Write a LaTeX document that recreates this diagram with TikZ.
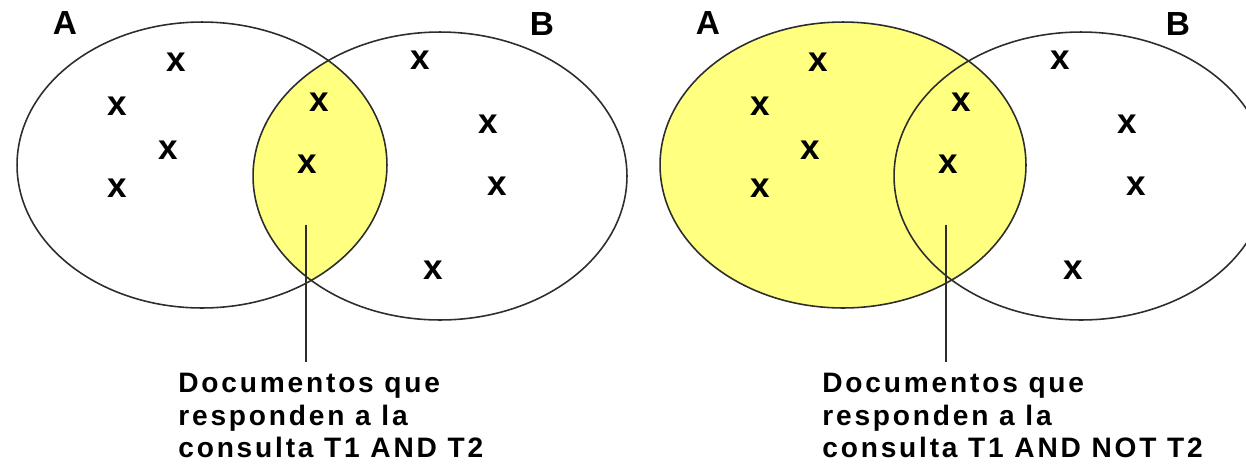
\documentclass[tikz,border=0pt]{standalone}
\usepackage{fontspec}
\setmainfont{Liberation Sans}
\newfontfamily\capfont[LetterSpace=10]{Liberation Sans}
\usetikzlibrary{positioning}

\definecolor{hiyellow}{RGB}{255,255,128}
\definecolor{setgray}{RGB}{45,45,45}

\tikzset{
  setline/.style={draw=setgray, line width=0.9pt},
  xmark/.style={font=\bfseries\fontsize{20}{20}\selectfont, inner sep=0pt},
  setname/.style={font=\bfseries\fontsize{19}{19}\selectfont, inner sep=0pt},
  caption/.style={font=\capfont\bfseries\fontsize{16}{18.5}\selectfont,
    align=left, anchor=north west, inner sep=0pt},
  pointer/.style={draw=setgray, line width=0.9pt},
}

\begin{document}
\begin{tikzpicture}[x=0.02cm, y=-0.02cm]
\clip (0,0) rectangle (1246,467);

% --- left: T1 AND T2
\begin{scope}
  \clip (202,165) ellipse [x radius=3.70cm, y radius=2.86cm];
  \fill[hiyellow] (440,176) ellipse [x radius=3.74cm, y radius=2.88cm];
\end{scope}
\draw[setline] (202,165) ellipse [x radius=3.70cm, y radius=2.86cm];
\draw[setline] (440,176) ellipse [x radius=3.74cm, y radius=2.88cm];

\node[setname] (nameAL) at (65,23) {A};
\node[setname] (nameBL) at (542,24) {B};

\foreach \px/\py [count=\i] in {176/62, 117/106, 168/150, 117/188, 319/102,
    307/164, 420/60, 488/124, 497/186, 433/270}
  \node[xmark] (xL\i) at (\px,\py) {x};

\coordinate (tipL) at (306,225);
\node[caption] (capL) at (178,373)
  {Documentos que\\responden a la\\consulta T1 AND T2};
\draw[pointer] (tipL) -- (tipL |- 0,362);

% --- right: T1 AND NOT T2
\fill[hiyellow] (843,165) ellipse [x radius=3.66cm, y radius=2.86cm];
\draw[setline] (843,165) ellipse [x radius=3.66cm, y radius=2.86cm];
\draw[setline] (1081,176) ellipse [x radius=3.74cm, y radius=2.88cm];

\node[setname] (nameAR) at (708,23) {A};
\node[setname] (nameBR) at (1178,24) {B};

\foreach \px/\py [count=\i] in {818/62, 760/106, 810/150, 760/188, 961/102,
    948/164, 1060/60, 1127/124, 1136/186, 1073/270}
  \node[xmark] (xR\i) at (\px,\py) {x};

\coordinate (tipR) at (946,225);
\node[caption] (capR) at (822,373)
  {Documentos que\\responden a la\\consulta T1 AND NOT T2};
\draw[pointer] (tipR) -- (tipR |- 0,362);
\end{tikzpicture}
\end{document}
